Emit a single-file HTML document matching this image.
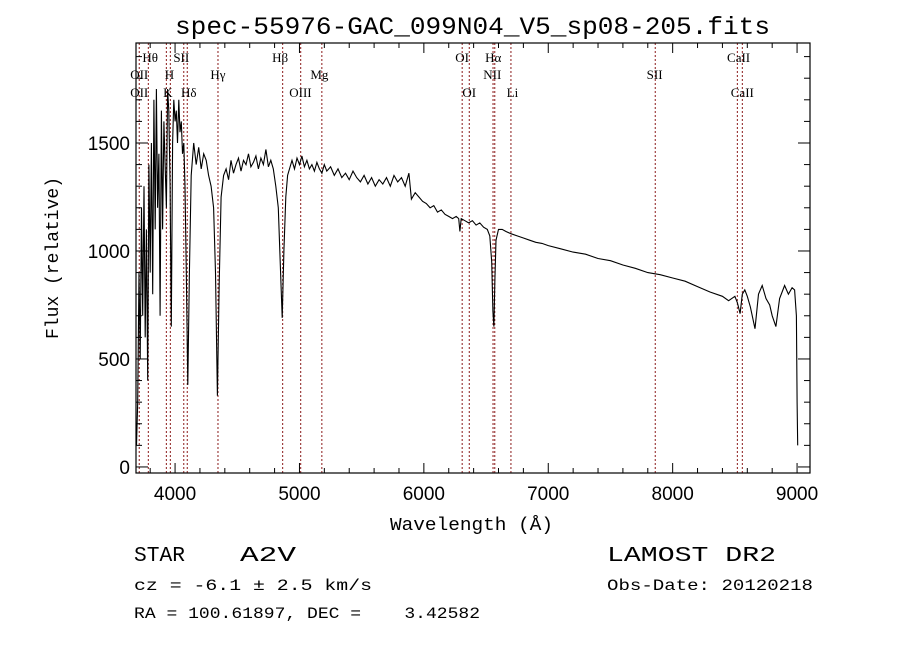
<!DOCTYPE html>
<html><head><meta charset="utf-8"><style>
body{margin:0;background:#fff;}
svg text{font-family:"Liberation Sans",sans-serif;}
</style></head><body>
<svg id="c" width="900" height="649" xmlns="http://www.w3.org/2000/svg">
<rect width="900" height="649" fill="#fff"/>
<text x="175" y="34" font-size="25" textLength="595" lengthAdjust="spacingAndGlyphs" style="font-family:'Liberation Mono',monospace">spec-55976-GAC_099N04_V5_sp08-205.fits</text>
<g id="lines"></g>
<g id="spec"></g>
<rect x="136" y="43" width="674" height="430" fill="none" stroke="#000" stroke-width="1.2"/>
<g id="axes"></g>
<text x="390" y="530" font-size="18" textLength="163" lengthAdjust="spacingAndGlyphs" style="font-family:'Liberation Mono',monospace">Wavelength (Å)</text>
<text transform="translate(58,258) rotate(-90)" font-size="18" text-anchor="middle" style="font-family:'Liberation Mono',monospace">Flux (relative)</text>
<text x="134" y="561" font-size="21" textLength="51" lengthAdjust="spacingAndGlyphs" style="font-family:'Liberation Mono',monospace">STAR</text>
<text x="240" y="561" font-size="21" textLength="56" lengthAdjust="spacingAndGlyphs" style="font-family:'Liberation Mono',monospace">A2V</text>
<text x="607" y="561" font-size="21" textLength="169" lengthAdjust="spacingAndGlyphs" style="font-family:'Liberation Mono',monospace">LAMOST DR2</text>
<text x="134" y="590" font-size="16" textLength="238" lengthAdjust="spacingAndGlyphs" style="font-family:'Liberation Mono',monospace">cz = -6.1 ± 2.5 km/s</text>
<text x="607" y="590" font-size="16" textLength="206" lengthAdjust="spacingAndGlyphs" style="font-family:'Liberation Mono',monospace">Obs-Date: 20120218</text>
<text x="134" y="618" font-size="16" textLength="346" lengthAdjust="spacingAndGlyphs" style="font-family:'Liberation Mono',monospace" xml:space="preserve">RA = 100.61897, DEC =    3.42582</text>
</svg>
<script>
const wavelengths=[3690,3700,3710,3720,3730,3740,3750,3760,3770,3780,3790,3800,3810,3820,3830,3840,3850,3860,3870,3880,3890,3900,3910,3920,3930,3940,3950,3960,3970,3980,3990,4000,4010,4020,4030,4040,4050,4060,4070,4080,4090,4102,4115,4130,4150,4170,4190,4210,4230,4250,4270,4290,4310,4325,4340,4355,4370,4390,4410,4430,4450,4470,4490,4510,4530,4550,4570,4590,4610,4630,4650,4670,4690,4710,4730,4750,4770,4790,4810,4830,4845,4861,4875,4890,4905,4920,4940,4960,4980,5000,5020,5040,5060,5080,5100,5120,5140,5160,5180,5200,5220,5250,5280,5310,5340,5370,5400,5430,5460,5490,5520,5550,5580,5610,5640,5670,5700,5730,5760,5790,5820,5850,5880,5900,5930,5960,5990,6020,6050,6080,6110,6140,6170,6200,6230,6260,6280,6290,6300,6330,6360,6390,6420,6450,6480,6510,6530,6545,6555,6563,6570,6580,6600,6630,6660,6700,6750,6800,6850,6900,6950,7000,7100,7200,7300,7400,7500,7600,7700,7800,7900,8000,8100,8200,8300,8400,8450,8500,8520,8542,8560,8580,8600,8625,8662,8690,8720,8750,8780,8800,8830,8860,8900,8930,8960,8980,8995,9000,9005];
const fluxes=[100,300,900,500,1200,700,1300,600,1100,400,1400,900,1500,800,1700,1100,1750,1200,1450,700,1650,1100,1600,1400,1200,1750,1650,1300,650,1500,1700,1600,1650,1500,1700,1550,1600,1450,1500,1300,900,380,900,1350,1500,1400,1480,1380,1450,1420,1350,1300,1200,900,330,850,1250,1350,1380,1330,1420,1360,1400,1430,1370,1420,1400,1450,1390,1410,1440,1380,1430,1400,1470,1390,1420,1380,1300,1200,950,690,1000,1250,1350,1380,1420,1380,1430,1400,1440,1390,1420,1380,1400,1370,1410,1380,1360,1400,1370,1390,1350,1380,1340,1360,1330,1370,1340,1320,1350,1310,1340,1300,1330,1310,1340,1300,1350,1320,1340,1300,1360,1240,1270,1250,1230,1220,1200,1210,1180,1190,1170,1160,1150,1160,1150,1090,1150,1140,1130,1140,1120,1130,1110,1100,1070,950,720,650,850,1050,1100,1100,1090,1080,1070,1060,1050,1040,1035,1025,1010,995,985,965,955,935,920,900,890,875,860,835,810,790,770,790,760,710,800,820,790,740,640,800,840,780,750,700,650,780,840,800,830,820,700,300,100];
const lineWaves=[3712,3785,3930,3962,4070,4098,4345,4865,5010,5180,6308,6365,6556,6570,6700,7860,8520,8560];
const labelWaves=[3712,3712,3800,3955,3942,4050,4110,4345,4845,5008,5160,6307,6365,6558,6550,6712,7855,8530,8560];
const labelTexts=["OII","OII","Hθ","H","K","SII","Hδ","Hγ","Hβ","OIII","Mg","OI","OI","Hα","NII","Li","SII","CaII","CaII"];
const labelRows=[2,3,1,2,3,1,3,2,1,3,2,1,3,1,2,3,2,1,3];
const xTicks=[4000,5000,6000,7000,8000,9000];
const yTicks=[0,500,1000,1500];
const X0=136,X1=810,Y0=473,Y1=43,WMIN=3686,WMAX=9104,FMIN=-28,FMAX=1963;
const xs=w=>X0+(w-WMIN)/(WMAX-WMIN)*(X1-X0);
const ys=f=>Y0-(f-FMIN)/(FMAX-FMIN)*(Y0-Y1);
const NS="http://www.w3.org/2000/svg";
function mk(tag,attrs,parent){const e=document.createElementNS(NS,tag);for(const k in attrs)e.setAttribute(k,attrs[k]);parent.appendChild(e);return e;}
const gl=document.getElementById('lines'),gs=document.getElementById('spec'),ga=document.getElementById('axes');
lineWaves.forEach(w=>{const l=mk('line',{x1:xs(w),x2:xs(w),y1:Y1,y2:Y0,stroke:'#8b1a1a','stroke-width':1,'stroke-dasharray':'2,2'},gl);

});
const rowY=[0,62,79,97];
labelTexts.forEach((t,i)=>{const e=mk('text',{x:xs(labelWaves[i]),y:rowY[labelRows[i]],'font-size':13,'text-anchor':'middle',style:"font-family:'Liberation Serif',serif"},gl);e.textContent=t;

});
const pts=wavelengths.map((w,i)=>xs(w).toFixed(1)+','+ys(fluxes[i]).toFixed(1)).join(' ');
const pl=mk('polyline',{points:pts,fill:'none',stroke:'#000','stroke-width':1.1},gs);


for(let w=3800;w<=9100;w+=200){const x=xs(w),L=(w%1000===0)?10:5;
mk('line',{x1:x,x2:x,y1:Y0,y2:Y0-L,stroke:'#000'},ga);mk('line',{x1:x,x2:x,y1:Y1,y2:Y1+L,stroke:'#000'},ga);}
for(let f=0;f<=1900;f+=100){const y=ys(f),L=(f%500===0)?12:6;
mk('line',{x1:X0,x2:X0+L,y1:y,y2:y,stroke:'#000'},ga);mk('line',{x1:X1,x2:X1-L,y1:y,y2:y,stroke:'#000'},ga);}
xTicks.forEach(w=>{const e=mk('text',{x:xs(w),y:Y0+27,'font-size':19,'text-anchor':'middle'},ga);e.textContent=w;

});
yTicks.forEach(f=>{const e=mk('text',{x:X0-6,y:ys(f)+7,'font-size':19,'text-anchor':'end'},ga);e.textContent=f;

});
</script>
</body></html>
